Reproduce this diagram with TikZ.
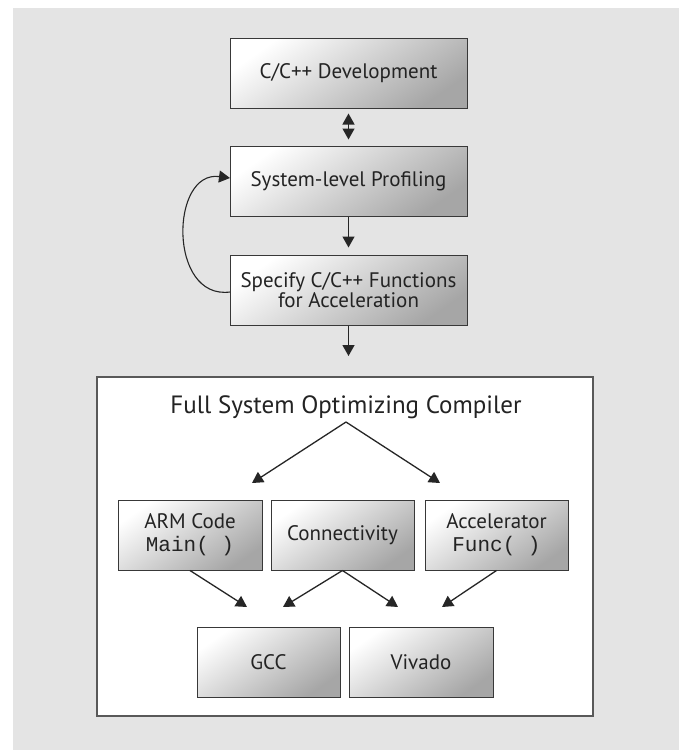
\documentclass[tikz,border=0pt]{standalone}
\usepackage{fontspec}
\setmainfont{PT Sans}
\setmonofont{Liberation Mono}
\usetikzlibrary{arrows.meta}
\definecolor{bggray}{HTML}{E4E4E4}
\definecolor{boxline}{HTML}{383838}
\definecolor{txt}{HTML}{232323}
\definecolor{shadedark}{HTML}{A6A6A6}
\tikzset{
  gbox/.style={draw=boxline, line width=1pt, top color=white, bottom color=shadedark,
    shading angle=35, minimum height=70pt, inner sep=0pt, text=txt,
    font=\fontsize{21}{22}\selectfont, align=center},
  conn/.style={draw=black!85, line width=1.3pt, -{Triangle[width=12pt,length=11pt]}},
  dconn/.style={draw=black!85, line width=1.3pt, {Triangle[width=12pt,length=11pt]}-{Triangle[width=12pt,length=11pt]}},
}
\begin{document}
\begin{tikzpicture}[x=1pt,y=-1pt]
\useasboundingbox (0,0) rectangle (679,750);
\fill[bggray] (13,8) rectangle (679,750);
% top flow
\node[gbox, minimum width=237pt] (dev) at (348.5,73) {C/C++ Development};
\node[gbox, minimum width=237pt] (prof) at (348.5,181) {System-level Profiling};
\node[gbox, minimum width=237pt] (spec) at (348.5,290) {Specify C/C++ Functions\\[-2pt]for Acceleration};
\draw[dconn, shorten <=5pt, shorten >=6pt] (dev.south) -- (prof.north);
\draw[conn, shorten >=7pt] (prof.south) -- (spec.north);
\coordinate (down) at (348.5,356);
\draw[conn] (spec.south) -- (down);
\coordinate (loopstart) at (230,292);
\coordinate (loopend) at (230,178);
\draw[conn, line width=1.1pt] (loopstart) .. controls (168,300) and (170,170) .. (loopend);
% compiler box
\node[draw=black!65, line width=1.2pt, fill=white, minimum width=496pt, minimum height=339pt, inner sep=0pt] (outer) at (345,546.5) {};
\node[text=txt, font=\fontsize{25}{28}\selectfont, inner sep=0pt] (title) at (346,407) {Full System Optimizing Compiler};
\coordinate (split) at (346,422);
\coordinate (tl) at (252,483);
\coordinate (tr) at (440,483);
\draw[conn] (split) -- (tl);
\draw[conn] (split) -- (tr);
\node[gbox, minimum width=144pt] (arm) at (190,535) {ARM Code\\[1pt]\texttt{Main( )}};
\node[gbox, minimum width=143pt] (cty) at (342.5,535) {Connectivity};
\node[gbox, minimum width=143pt] (acc) at (496.5,535) {Accelerator\\[1pt]\texttt{Func( )}};
\node[gbox, minimum width=143pt] (gcc) at (268.5,662) {GCC};
\node[gbox, minimum width=144pt] (viv) at (421,662) {Vivado};
\coordinate (ga) at (247,607);
\coordinate (gb) at (283,607);
\coordinate (va) at (398,607);
\coordinate (vb) at (442,607);
\draw[conn] (arm.south) -- (ga);
\draw[conn] (cty.south) -- (gb);
\draw[conn] (cty.south) -- (va);
\draw[conn] (acc.south) -- (vb);
\end{tikzpicture}
\end{document}
